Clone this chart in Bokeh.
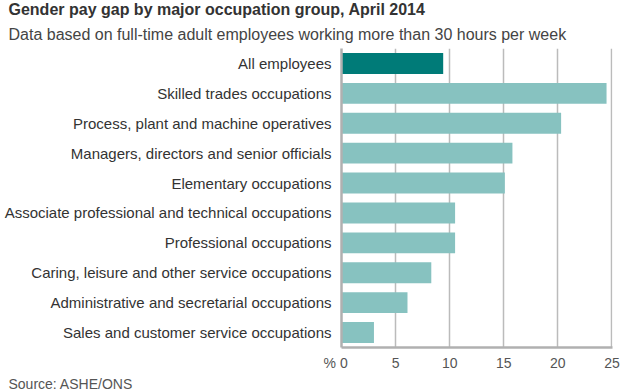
from bokeh.plotting import figure
from bokeh.models import FactorRange, Range1d, Title, FixedTicker
from bokeh.embed import file_html
from bokeh.resources import INLINE

categories = [
    "All employees",
    "Skilled trades occupations",
    "Process, plant and machine operatives",
    "Managers, directors and senior officials",
    "Elementary occupations",
    "Associate professional and technical occupations",
    "Professional occupations",
    "Caring, leisure and other service occupations",
    "Administrative and secretarial occupations",
    "Sales and customer service occupations",
]
values = [9.4, 24.5, 20.3, 15.8, 15.1, 10.5, 10.5, 8.3, 6.1, 3.0]
colors = ["#007b78"] + ["#87c2c0"] * 9
x_ticks = [0, 5, 10, 15, 20, 25]
unit_label = "%"

title_text = "Gender pay gap by major occupation group, April 2014"
subtitle_text = "Data based on full-time adult employees working more than 30 hours per week"
source_text = "Source: ASHE/ONS"

FONT = "Liberation Sans"
LEFT = 341
NB = "\u00a0"

p = figure(width=624, height=392, output_backend="svg", toolbar_location=None,
           y_range=FactorRange(*reversed(categories), range_padding=0),
           x_range=Range1d(0, 25.05),
           min_border_left=LEFT, min_border_right=12, min_border_top=48, min_border_bottom=45)
p.outline_line_color = None
p.title.visible = False

p.hbar(y=categories, right=values, left=0, height=0.7, color=colors, line_color=None)

p.xgrid.ticker = FixedTicker(ticks=x_ticks)
p.xgrid.grid_line_color = "#bbbbbb"
p.xgrid.grid_line_width = 1.5
p.ygrid.grid_line_color = None

p.xaxis.ticker = FixedTicker(ticks=x_ticks)
p.xaxis.major_label_overrides = {0: unit_label + NB + "0" + NB * 3}
p.xaxis.axis_line_color = "#b0b0b0"
p.xaxis.axis_line_width = 2.5
p.xaxis.major_tick_line_color = None
p.xaxis.minor_tick_line_color = None
p.xaxis.major_label_text_font = FONT
p.xaxis.major_label_text_font_size = "14px"
p.xaxis.major_label_text_color = "#555555"
p.xaxis.major_label_standoff = 1

p.yaxis.axis_line_color = "#b0b0b0"
p.yaxis.axis_line_width = 2.5
p.yaxis.major_tick_line_color = None
p.yaxis.minor_tick_line_color = None
p.yaxis.major_label_text_font = FONT
p.yaxis.major_label_text_font_size = "15px"
p.yaxis.major_label_text_color = "#333333"
p.yaxis.major_label_standoff = 4

p.add_layout(Title(text=subtitle_text, text_font=FONT, text_font_size="16px",
                   text_font_style="normal", text_color="#444444", align="left",
                   offset=8 - LEFT, standoff=12), "above")
p.add_layout(Title(text=title_text, text_font=FONT, text_font_size="16px",
                   text_font_style="bold", text_color="#333333", align="left",
                   vertical_align="top", offset=8 - LEFT, standoff=-4), "above")
p.add_layout(Title(text=source_text, text_font=FONT, text_font_size="14px",
                   text_font_style="normal", text_color="#555555", align="left",
                   offset=8 - LEFT, standoff=1), "below")

open("out.html", "w").write(file_html(p, INLINE))
